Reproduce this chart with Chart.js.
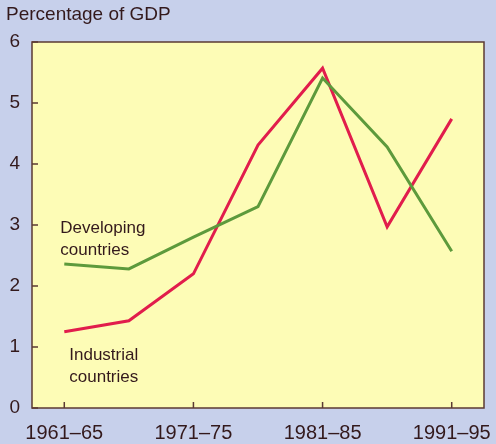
<!DOCTYPE html>
<html>
<head>
<meta charset="utf-8">
<script src="https://cdn.jsdelivr.net/npm/chart.js@4"></script>
<style>
  html, body { margin: 0; padding: 0; background: #c7d0eb; }
  #wrap { width: 496px; height: 444px; position: relative; }
</style>
</head>
<body>
<div id="wrap"><canvas id="chart"></canvas></div>
<script>
// periods on the x axis, only every other one gets a label
const periods = ['1961–65', '1966–70', '1971–75', '1976–80', '1981–85', '1986–90', '1991–95'];
const developing = [2.36, 2.28, 2.8, 3.3, 5.41, 4.28, 2.57];
const industrial = [1.25, 1.43, 2.2, 4.31, 5.57, 2.97, 4.74];
const yTicks = [0, 1, 2, 3, 4, 5, 6];

const textColor = '#33191c';
const frameColor = '#5b3a33';
const fontFamily = '"Liberation Sans", Arial, sans-serif';

// yellow panel, frame, inward ticks and the text labels
const decorations = {
	id: 'decorations',
	beforeDraw(chart) {
		const { ctx, chartArea: a } = chart;
		ctx.save();
		ctx.fillStyle = '#fdfcb6';
		ctx.fillRect(a.left, a.top, a.right - a.left, a.bottom - a.top);
		ctx.restore();
	},
	afterDraw(chart) {
		const { ctx, chartArea: a, scales } = chart;
		ctx.save();
		ctx.strokeStyle = frameColor;
		ctx.lineWidth = 1.5;
		ctx.strokeRect(a.left, a.top, a.right - a.left, a.bottom - a.top);

		// inward tick marks
		ctx.beginPath();
		yTicks.forEach((v) => {
			const y = scales.y.getPixelForValue(v);
			ctx.moveTo(a.left, y);
			ctx.lineTo(a.left + 6, y);
		});
		periods.forEach((p, i) => {
			if (i % 2 !== 0) return;
			const x = scales.x.getPixelForValue(i);
			ctx.moveTo(x, a.bottom);
			ctx.lineTo(x, a.bottom - 6);
		});
		ctx.stroke();

		ctx.fillStyle = textColor;
		ctx.textBaseline = 'middle';
		ctx.textAlign = 'left';
		ctx.font = '19px ' + fontFamily;
		ctx.fillText('Percentage of GDP', 6, 15);

		ctx.font = '17px ' + fontFamily;
		const x0 = scales.x.getPixelForValue(0);
		ctx.fillText('Developing', x0 - 4, scales.y.getPixelForValue(2.95));
		ctx.fillText('countries', x0 - 4, scales.y.getPixelForValue(2.59));
		ctx.fillText('Industrial', x0 + 5, scales.y.getPixelForValue(0.87));
		ctx.fillText('countries', x0 + 5, scales.y.getPixelForValue(0.51));
		ctx.restore();
	},
};

new Chart(document.getElementById('chart'), {
	type: 'line',
	data: {
		labels: periods,
		datasets: [
			{
				label: 'Developing countries',
				data: developing,
				borderColor: '#5d9a3c',
				borderWidth: 3,
				pointRadius: 0,
				tension: 0,
			},
			{
				label: 'Industrial countries',
				data: industrial,
				borderColor: '#e11d4c',
				borderWidth: 3,
				pointRadius: 0,
				tension: 0,
			},
		],
	},
	options: {
		responsive: true,
		maintainAspectRatio: false,
		animation: false,
		layout: { padding: { top: 42, right: 12, left: 0, bottom: 0 } },
		plugins: {
			legend: { display: false },
			tooltip: { enabled: false },
		},
		scales: {
			x: {
				offset: true,
				grid: { display: false },
				border: { display: false },
				afterFit: (scale) => {
					scale.height = 36;
					scale.paddingLeft = 0;
					scale.paddingRight = 0;
				},
				ticks: {
					autoSkip: false,
					maxRotation: 0,
					padding: 5,
					color: textColor,
					font: { family: fontFamily, size: 20 },
					callback: (v, i) => (i % 2 === 0 ? periods[i] : ''),
				},
			},
			y: {
				min: 0,
				max: 6,
				grid: { display: false },
				border: { display: false },
				afterFit: (scale) => {
					scale.width = 32;
					scale.paddingTop = 0;
					scale.paddingBottom = 0;
				},
				ticks: {
					stepSize: 1,
					padding: 4,
					color: textColor,
					font: { family: fontFamily, size: 19 },
				},
			},
		},
	},
	plugins: [decorations],
});
</script>
</body>
</html>
